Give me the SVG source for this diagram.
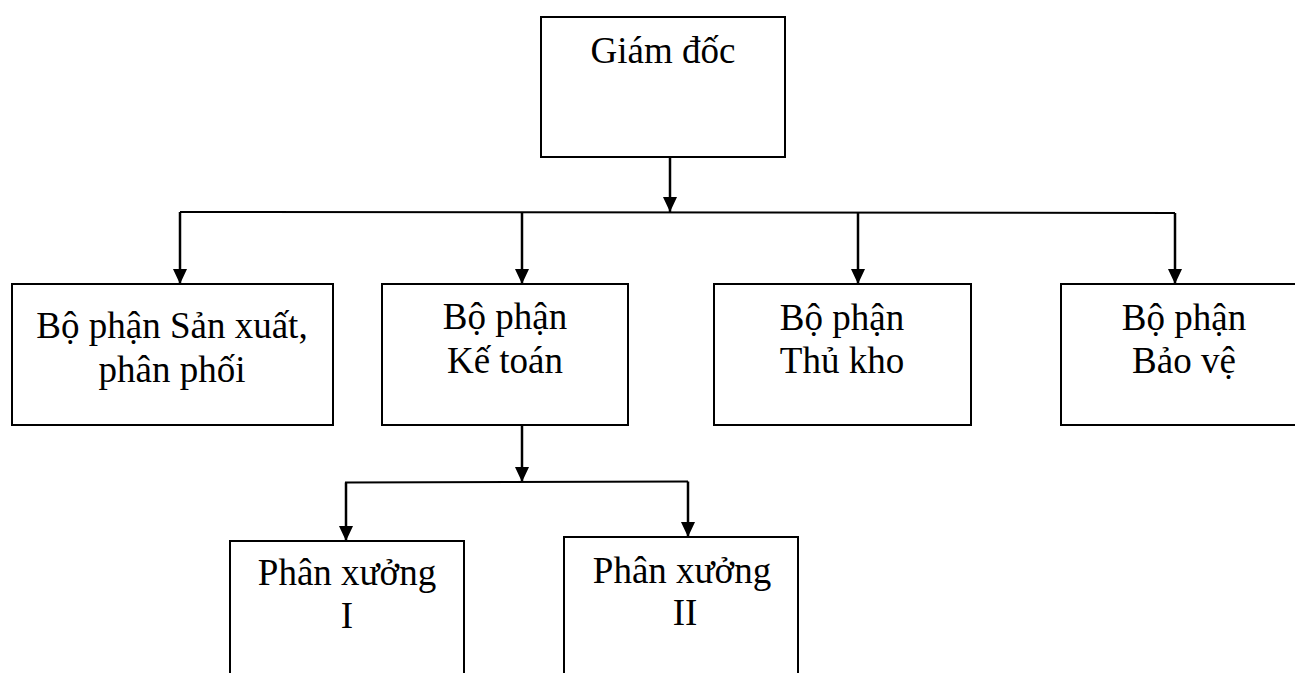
<svg xmlns="http://www.w3.org/2000/svg" width="1295" height="673" viewBox="0 0 1295 673">
  <style>
    .box { fill: #ffffff; stroke: #000000; stroke-width: 2; }
    .lbl { font-family: "Liberation Serif", "Times New Roman", serif; font-size: 37px; fill: #000000; text-anchor: middle; }
    .wire { fill: none; stroke: #000000; stroke-width: 2; }
    .drop { fill: none; stroke: #000000; stroke-width: 2.5; marker-end: url(#arrow); }
  </style>
  <defs>
    <marker id="arrow" markerUnits="userSpaceOnUse" markerWidth="15" markerHeight="14" refX="15" refY="7" orient="auto">
      <path d="M0,0 L15,7 L0,14 Z" fill="#000000"/>
    </marker>
  </defs>
  <rect width="1295" height="673" fill="#ffffff"/>

  <!-- connectors -->
  <g id="connectors">
    <line class="drop" x1="670" y1="157" x2="670" y2="212"/>
    <line class="wire" x1="180" y1="212" x2="1175" y2="213"/>
    <line class="drop" x1="180" y1="212" x2="180" y2="284"/>
    <line class="drop" x1="522" y1="213" x2="522" y2="284"/>
    <line class="drop" x1="858" y1="213" x2="858" y2="284"/>
    <line class="drop" x1="1175" y1="213" x2="1175" y2="284"/>
    <line class="drop" x1="522" y1="425" x2="522" y2="482"/>
    <polyline class="wire" points="346,483 346,482.5 688,481.5"/>
    <line class="drop" x1="346" y1="482.5" x2="346" y2="541"/>
    <line class="drop" x1="688" y1="481.5" x2="688" y2="537"/>
  </g>

  <g id="giam-doc">
    <rect class="box" x="541" y="17" width="244" height="140"/>
    <text class="lbl" x="663" y="63">Giám đốc</text>
  </g>

  <g id="san-xuat">
    <rect class="box" x="12" y="284" width="321" height="141"/>
    <text class="lbl" x="172" y="338">Bộ phận Sản xuất,</text>
    <text class="lbl" x="172" y="382">phân phối</text>
  </g>

  <g id="ke-toan">
    <rect class="box" x="382" y="284" width="246" height="141"/>
    <text class="lbl" x="505" y="329">Bộ phận</text>
    <text class="lbl" x="505" y="373">Kế toán</text>
  </g>

  <g id="thu-kho">
    <rect class="box" x="714" y="284" width="257" height="141"/>
    <text class="lbl" x="842" y="330">Bộ phận</text>
    <text class="lbl" x="842" y="373">Thủ kho</text>
  </g>

  <g id="bao-ve">
    <rect class="box" x="1061" y="284" width="250" height="141"/>
    <text class="lbl" x="1184" y="330">Bộ phận</text>
    <text class="lbl" x="1184" y="373">Bảo vệ</text>
  </g>

  <g id="phan-xuong-1">
    <rect class="box" x="230" y="541" width="234" height="150"/>
    <text class="lbl" x="347" y="585">Phân xưởng</text>
    <text class="lbl" x="347" y="628">I</text>
  </g>

  <g id="phan-xuong-2">
    <rect class="box" x="564" y="537" width="234" height="150"/>
    <text class="lbl" x="682" y="583">Phân xưởng</text>
    <text class="lbl" x="685" y="625">II</text>
  </g>
</svg>
